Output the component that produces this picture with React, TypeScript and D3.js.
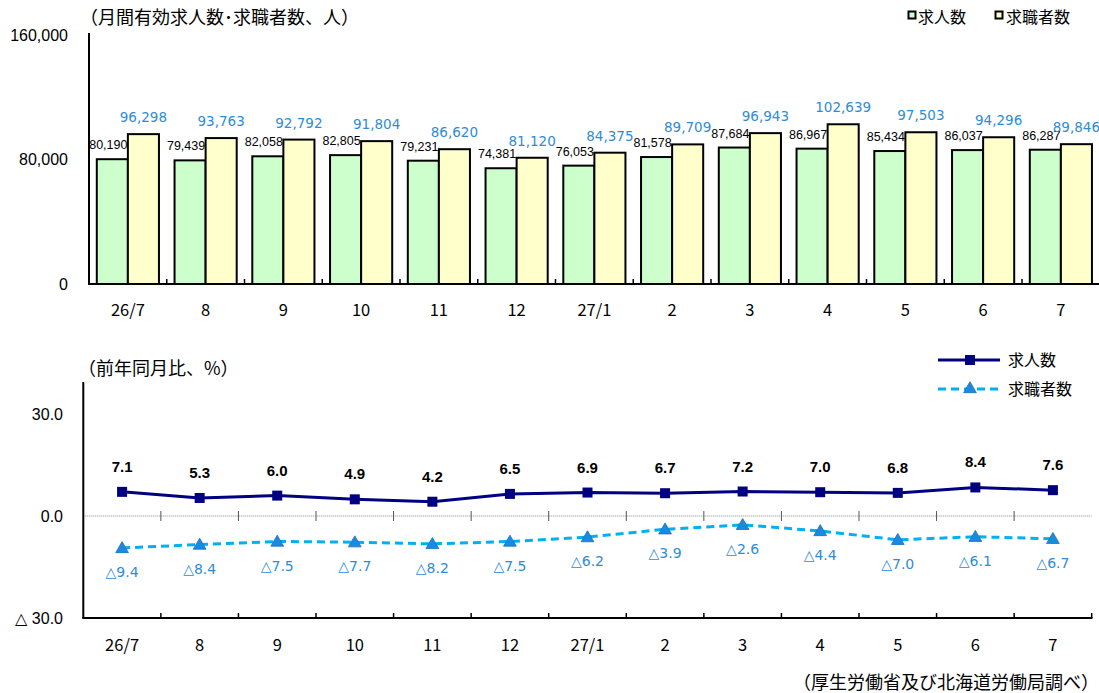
import React from "react";
import * as d3 from "d3";

// Months shown on both panels
const months = ["26/7", "8", "9", "10", "11", "12", "27/1", "2", "3", "4", "5", "6", "7"];

// Monthly job openings / job seekers (persons)
const openings = [80190, 79439, 82058, 82805, 79231, 74381, 76053, 81578, 87684, 86967, 85434, 86037, 86287];
const seekers = [96298, 93763, 92792, 91804, 86620, 81120, 84375, 89709, 96943, 102639, 97503, 94296, 89846];

// Year-over-year change (%)
const openingsYoY = [7.1, 5.3, 6.0, 4.9, 4.2, 6.5, 6.9, 6.7, 7.2, 7.0, 6.8, 8.4, 7.6];
const seekersYoY = [-9.4, -8.4, -7.5, -7.7, -8.2, -7.5, -6.2, -3.9, -2.6, -4.4, -7.0, -6.1, -6.7];

const topTicks = [0, 80000, 160000];
const bottomTicks = [-30, 0, 30];

const JP = "'Noto Sans CJK JP', sans-serif";
const NUM = "'Liberation Sans', Arial, sans-serif";

const GREEN = "#ccffcc";
const YELLOW = "#ffffcc";
const NAVY = "#000080";
const CYAN = "#00b0f0";
const LABEL_BLUE = "#2f8bd6";
const TRI_BLUE = "#1a8ae0";

const fmt = d3.format(",");
const fmtPct = (v: number) => (v < 0 ? "△" + Math.abs(v).toFixed(1) : v.toFixed(1));
const fmtAxis = (v: number) => (v < 0 ? "△ " + Math.abs(v).toFixed(1) : v.toFixed(1));

export default function App() {
  const W = 1099;
  const H = 693;

  // ---- top panel: bars ----
  const x0 = d3.scaleBand<string>().domain(months).range([89, 89 + 13 * 77.75]).padding(0);
  const bw = x0.bandwidth();
  const x1 = d3.scaleBand<string>().domain(["o", "s"]).range([7.8, bw - 7.8]).padding(0);
  const yTop = d3.scaleLinear().domain([0, 160000]).range([284, 35]);

  // ---- bottom panel: lines ----
  const xb = d3.scaleBand<string>().domain(months).range([83.3, 1091.7]).padding(0);
  const yBot = d3.scaleLinear().domain([-30, 30]).range([618, 414]);
  const cx = (m: string) => (xb(m) as number) + xb.bandwidth() / 2;

  const line = d3
    .line<number>()
    .x((_, i) => cx(months[i]))
    .y((d) => yBot(d));

  const tri = d3.symbol().type(d3.symbolTriangle).size(70)();

  return (
    <svg width={W} height={H} style={{ display: "block", position: "absolute", left: 0, top: 0 }}>
      <rect width={W} height={H} fill="#fff" />

      {/* ===== Top panel ===== */}
      <text x={80} y={24} fontFamily={JP} fontSize={18} fill="#000">
        （月間有効求人数･求職者数、人）
      </text>

      {topTicks.map((t) => (
        <text key={t} x={68} y={yTop(t) + 5.5} textAnchor="end" fontFamily={NUM} fontSize={16} fill="#000">
          {fmt(t)}
        </text>
      ))}

      {months.map((m, i) => {
        const bx = x0(m) as number;
        const gx = bx + (x1("o") as number);
        const sx = bx + (x1("s") as number);
        const w = x1.bandwidth();
        return (
          <g key={m}>
            <rect x={gx} y={yTop(openings[i])} width={w} height={yTop(0) - yTop(openings[i])} fill={GREEN} stroke="#000" strokeWidth={2} />
            <rect x={sx} y={yTop(seekers[i])} width={w} height={yTop(0) - yTop(seekers[i])} fill={YELLOW} stroke="#000" strokeWidth={2} />
            <text x={gx + w / 2 - 4} y={yTop(openings[i]) - 10} textAnchor="middle" fontFamily={NUM} fontSize={12.5} fill="#000">
              {fmt(openings[i])}
            </text>
            <text x={sx + w / 2} y={yTop(seekers[i]) - 12} textAnchor="middle" fontFamily="'DejaVu Sans', sans-serif" fontSize={13.5} fill={LABEL_BLUE}>
              {fmt(seekers[i])}
            </text>
            <text x={bx + bw / 2} y={316} textAnchor="middle" fontFamily={JP} fontSize={16.5} fill="#000">
              {m}
            </text>
          </g>
        );
      })}

      {/* axes */}
      <line x1={89} y1={33} x2={89} y2={284} stroke="#000" strokeWidth={2} />
      <line x1={88} y1={284} x2={W} y2={284} stroke="#000" strokeWidth={2} />
      {months.slice(1).map((m) => (
        <line key={m} x1={x0(m) as number} y1={284} x2={x0(m) as number} y2={279} stroke="#000" strokeWidth={1.5} />
      ))}

      {/* top legend */}
      <rect x={908.5} y={11.5} width={7} height={7} fill={GREEN} stroke="#000" strokeWidth={2} />
      <text x={918} y={23} fontFamily={JP} fontSize={16} fill="#000">求人数</text>
      <rect x={995.5} y={11.5} width={7} height={7} fill={YELLOW} stroke="#000" strokeWidth={2} />
      <text x={1006} y={23} fontFamily={JP} fontSize={16} fill="#000">求職者数</text>

      {/* ===== Bottom panel ===== */}
      <text x={78} y={375} fontFamily={JP} fontSize={18} fill="#000">
        （前年同月比、%）
      </text>

      {bottomTicks.map((t) => (
        <text key={t} x={63} y={yBot(t) + 5.5} textAnchor="end" fontFamily={NUM} fontSize={16} fill="#000">
          {fmtAxis(t)}
        </text>
      ))}

      {/* zero reference line */}
      <line x1={83.3} y1={yBot(0)} x2={1091.7} y2={yBot(0)} stroke="#888" strokeWidth={1} strokeDasharray="1 1" />
      {months.slice(1).map((m) => (
        <line key={m} x1={xb(m) as number} y1={yBot(0) - 5} x2={xb(m) as number} y2={yBot(0) + 5} stroke="#555" strokeWidth={1} />
      ))}

      <line x1={83.3} y1={382} x2={83.3} y2={618} stroke="#000" strokeWidth={2} />
      <line x1={82.3} y1={618} x2={1092.5} y2={618} stroke="#000" strokeWidth={2} />
      {months.slice(1).map((m) => (
        <line key={m} x1={xb(m) as number} y1={618} x2={xb(m) as number} y2={613} stroke="#000" strokeWidth={1.5} />
      ))}
      <line x1={1091.7} y1={618} x2={1091.7} y2={613} stroke="#000" strokeWidth={1.5} />

      {months.map((m) => (
        <text key={m} x={cx(m)} y={651} textAnchor="middle" fontFamily={JP} fontSize={16.5} fill="#000">
          {m}
        </text>
      ))}

      {/* job seekers: dashed line with triangles */}
      <path d={line(seekersYoY) as string} fill="none" stroke={CYAN} strokeWidth={3} strokeDasharray="8 5" />
      {seekersYoY.map((v, i) => (
        <g key={i}>
          <path d={tri as string} transform={`translate(${cx(months[i])},${yBot(v) + 1})`} fill={TRI_BLUE} stroke="#1570c0" strokeWidth={0.8} />
          <text x={cx(months[i])} y={yBot(v) + 29} textAnchor="middle" fontFamily="'DejaVu Sans', sans-serif" fontSize={14} fill={LABEL_BLUE}>
            {fmtPct(v)}
          </text>
        </g>
      ))}

      {/* job openings: solid line with squares */}
      <path d={line(openingsYoY) as string} fill="none" stroke={NAVY} strokeWidth={3} />
      {openingsYoY.map((v, i) => (
        <g key={i}>
          <rect x={cx(months[i]) - 5} y={yBot(v) - 5} width={10} height={10} fill={NAVY} />
          <text x={cx(months[i])} y={yBot(v) - 20} textAnchor="middle" fontFamily={NUM} fontWeight="bold" fontSize={15} fill="#000">
            {fmtPct(v)}
          </text>
        </g>
      ))}

      {/* bottom legend */}
      <line x1={938} y1={360} x2={1000} y2={360} stroke={NAVY} strokeWidth={3} />
      <rect x={965} y={355} width={10} height={10} fill={NAVY} />
      <text x={1008} y={366} fontFamily={JP} fontSize={16} fill="#000">求人数</text>
      <line x1={938} y1={389} x2={1000} y2={389} stroke={CYAN} strokeWidth={3} strokeDasharray="8 5" />
      <path d={tri as string} transform="translate(970,389)" fill={TRI_BLUE} stroke="#1570c0" strokeWidth={0.8} />
      <text x={1008} y={395} fontFamily={JP} fontSize={16} fill="#000">求職者数</text>

      {/* source note */}
      <text x={1099} y={689} textAnchor="end" fontFamily={JP} fontSize={18} fill="#000">
        （厚生労働省及び北海道労働局調べ）
      </text>
    </svg>
  );
}
